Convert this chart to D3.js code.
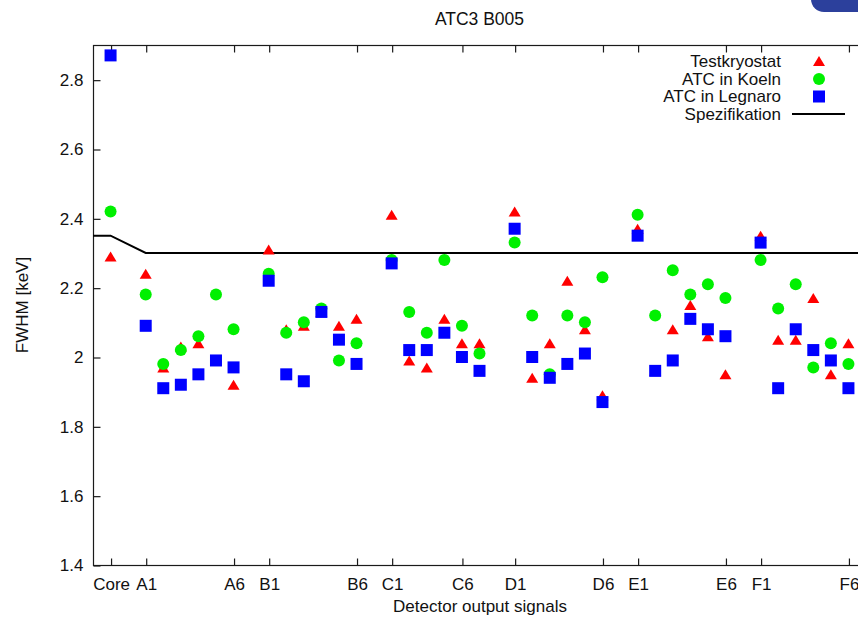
<!DOCTYPE html>
<html>
<head>
<meta charset="utf-8">
<script src="https://cdn.jsdelivr.net/npm/d3@7"></script>
<style>
  html, body { margin: 0; padding: 0; background: #fff; }
  svg { display: block; font-family: "Liberation Sans", Arial, Helvetica, sans-serif; }
</style>
</head>
<body>
<svg id="chart" width="858" height="617"></svg>
<script>
// Detector segments: the core, then six segments in each of the rows A..F
const groups = ["A", "B", "C", "D", "E", "F"];
const categories = ["Core"].concat(groups.flatMap(g => d3.range(1, 7).map(k => g + k)));

// FWHM [keV] per signal, one value per category (Core, A1..A6, B1..B6, ... F1..F6)
const testkryostat = [
  2.29,
  2.24, 1.97, 2.03, 2.04, 1.99, 1.92,
  2.31, 2.08, 2.09, 2.13, 2.09, 2.11,
  2.41, 1.99, 1.97, 2.11, 2.04, 2.04,
  2.42, 1.94, 2.04, 2.22, 2.08, 1.89,
  2.37, 1.96, 2.08, 2.15, 2.06, 1.95,
  2.35, 2.05, 2.05, 2.17, 1.95, 2.04
];
const atcKoeln = [
  2.42,
  2.18, 1.98, 2.02, 2.06, 2.18, 2.08,
  2.24, 2.07, 2.10, 2.14, 1.99, 2.04,
  2.28, 2.13, 2.07, 2.28, 2.09, 2.01,
  2.33, 2.12, 1.95, 2.12, 2.10, 2.23,
  2.41, 2.12, 2.25, 2.18, 2.21, 2.17,
  2.28, 2.14, 2.21, 1.97, 2.04, 1.98
];
const atcLegnaro = [
  2.87,
  2.09, 1.91, 1.92, 1.95, 1.99, 1.97,
  2.22, 1.95, 1.93, 2.13, 2.05, 1.98,
  2.27, 2.02, 2.02, 2.07, 2.00, 1.96,
  2.37, 2.00, 1.94, 1.98, 2.01, 1.87,
  2.35, 1.96, 1.99, 2.11, 2.08, 2.06,
  2.33, 1.91, 2.08, 2.02, 1.99, 1.91
];

// Specification limit: 2.35 keV for the core, 2.3 keV for the segments
const specX = [-1, 0, 2, 43];
const specY = [2.35, 2.35, 2.3, 2.3];

// x-axis ticks (axis units) and their labels
const xTickValues = [0, 2, 7, 9, 14, 16, 20, 23, 28, 30, 35, 37, 42];
const xTickLabels = ["Core", "A1", "A6", "B1", "B6", "C1", "C6", "D1", "D6", "E1", "E6", "F1", "F6"];
const yTickValues = [1.4, 1.6, 1.8, 2.0, 2.2, 2.4, 2.6, 2.8];

const seriesNames = ["Testkryostat", "ATC in Koeln", "ATC in Legnaro", "Spezifikation"];

// Axis position of a category: core at 0, each row of six after a one-slot gap
function catPos(name) {
  if (name === "Core") return 0;
  const g = groups.indexOf(name[0]);
  const k = +name.slice(1) - 1;
  return 2 + g * 7 + k;
}

const svg = d3.select("#chart");
const plotL = 93, plotR = 866, plotT = 45, plotB = 565;

const x = d3.scaleLinear().domain([-1, 43]).range([plotL, plotR]);
const y = d3.scaleLinear().domain([1.4, 2.9]).range([plotB, plotT]);

const FONT = 17;
const axisColor = "#1a1a1a";

// Title
svg.append("text")
  .attr("x", 479.5).attr("y", 25)
  .attr("text-anchor", "middle")
  .attr("font-size", 17.5).attr("fill", "#111")
  .text("ATC3 B005");

// Small badge in the top-right corner
svg.append("rect")
  .attr("x", 811).attr("y", -22).attr("width", 70).attr("height", 34).attr("rx", 13)
  .attr("fill", "#2c409c");

// Plot border
svg.append("rect")
  .attr("x", plotL + 0.5).attr("y", plotT + 0.5)
  .attr("width", plotR - plotL).attr("height", plotB - plotT)
  .attr("fill", "none").attr("stroke", axisColor).attr("stroke-width", 1.2);

// Axes (ticks drawn inward, mirrored on the opposite side)
const tickLen = 7;
const bottomAxis = d3.axisBottom(x).tickValues(xTickValues)
  .tickFormat((d, i) => xTickLabels[i]).tickSizeInner(-tickLen).tickSizeOuter(0).tickPadding(12);
const gx = svg.append("g").attr("transform", `translate(0.5,${plotB + 0.5})`).call(bottomAxis);
const topAxis = d3.axisTop(x).tickValues(xTickValues).tickFormat("").tickSizeInner(-tickLen).tickSizeOuter(0);
const gxt = svg.append("g").attr("transform", `translate(0.5,${plotT + 0.5})`).call(topAxis);

const leftAxis = d3.axisLeft(y).tickValues(yTickValues)
  .tickFormat(d3.format("~g")).tickSizeInner(-tickLen).tickSizeOuter(0).tickPadding(10);
const gy = svg.append("g").attr("transform", `translate(${plotL + 0.5},0.5)`).call(leftAxis);
const rightAxis = d3.axisRight(y).tickValues(yTickValues).tickFormat("").tickSizeInner(-tickLen).tickSizeOuter(0);
const gyr = svg.append("g").attr("transform", `translate(${plotR + 0.5},0.5)`).call(rightAxis);

[gx, gxt, gy, gyr].forEach(g => {
  g.select(".domain").remove();
  g.selectAll(".tick line").attr("stroke", axisColor).attr("stroke-width", 1.2);
  g.selectAll(".tick text").attr("font-size", FONT).attr("fill", "#111")
    .attr("font-family", "Liberation Sans, Arial, sans-serif");
});

// Axis titles
svg.append("text")
  .attr("x", 480).attr("y", 612)
  .attr("text-anchor", "middle").attr("font-size", FONT).attr("fill", "#111")
  .text("Detector output signals");
svg.append("text")
  .attr("transform", "translate(28,305) rotate(-90)")
  .attr("text-anchor", "middle").attr("font-size", FONT).attr("fill", "#111")
  .text("FWHM [keV]");

// Specification line
const specLine = d3.line().x(d => x(d[0])).y(d => y(d[1]));
svg.append("path")
  .datum(specX.map((v, i) => [v, specY[i]]))
  .attr("d", specLine)
  .attr("fill", "none").attr("stroke", "#000").attr("stroke-width", 2);

// Marker shapes
const triPath = (cx, cy) => `M${cx},${cy - 5} L${cx + 6},${cy + 5} L${cx - 6},${cy + 5} Z`;

function drawSeries(values, kind) {
  const pts = categories.map((c, i) => ({ c, v: values[i] }));
  const g = svg.append("g");
  if (kind === "tri") {
    g.selectAll("path").data(pts).join("path")
      .attr("d", d => triPath(x(catPos(d.c)), y(d.v)))
      .attr("fill", "#ff0000");
  } else if (kind === "circle") {
    g.selectAll("circle").data(pts).join("circle")
      .attr("cx", d => x(catPos(d.c))).attr("cy", d => y(d.v)).attr("r", 6)
      .attr("fill", "#00f000");
  } else {
    g.selectAll("rect").data(pts).join("rect")
      .attr("x", d => x(catPos(d.c)) - 6).attr("y", d => y(d.v) - 6)
      .attr("width", 12).attr("height", 12)
      .attr("fill", "#0000ff");
  }
}
drawSeries(testkryostat, "tri");
drawSeries(atcKoeln, "circle");
drawSeries(atcLegnaro, "square");

// Legend
const legX = 781, legSym = 819;
const legY = [61, 79, 96.5, 114];
const leg = svg.append("g");
seriesNames.forEach((name, i) => {
  leg.append("text")
    .attr("x", legX).attr("y", legY[i]).attr("dy", "0.35em")
    .attr("text-anchor", "end").attr("font-size", FONT).attr("fill", "#111")
    .text(name);
});
leg.append("path").attr("d", triPath(legSym, legY[0])).attr("fill", "#ff0000");
leg.append("circle").attr("cx", legSym).attr("cy", legY[1]).attr("r", 6).attr("fill", "#00f000");
leg.append("rect").attr("x", legSym - 6).attr("y", legY[2] - 6).attr("width", 12).attr("height", 12).attr("fill", "#0000ff");
leg.append("line").attr("x1", 792).attr("x2", 845).attr("y1", legY[3]).attr("y2", legY[3])
  .attr("stroke", "#000").attr("stroke-width", 2);
</script>
</body>
</html>
